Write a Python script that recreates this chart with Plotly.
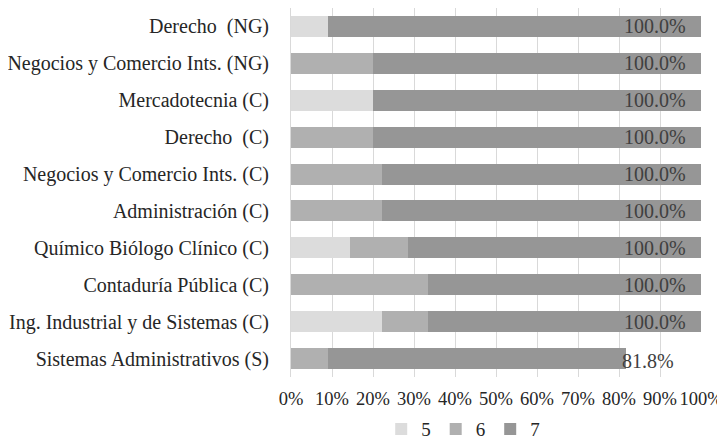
import plotly.graph_objects as go

categorias = ['Derecho  (NG)', 'Negocios y Comercio Ints. (NG)', 'Mercadotecnia (C)',
              'Derecho  (C)', 'Negocios y Comercio Ints. (C)', 'Administración (C)',
              'Químico Biólogo Clínico (C)', 'Contaduría Pública (C)',
              'Ing. Industrial y de Sistemas (C)', 'Sistemas Administrativos (S)']

# porcentaje por calificacion
cal_5 = [9.1, 0, 20.0, 0, 0, 0, 14.3, 0, 22.2, 0]
cal_6 = [0, 20.0, 0, 20.0, 22.2, 22.2, 14.3, 33.3, 11.1, 9.1]
cal_7 = [90.9, 80.0, 80.0, 80.0, 77.8, 77.8, 71.4, 66.7, 66.7, 72.7]
totales = [100.0, 100.0, 100.0, 100.0, 100.0, 100.0, 100.0, 100.0, 100.0, 81.8]

fuente = 'Liberation Serif, Times New Roman, serif'

fig = go.Figure()
for nombre, vals, color in [('5', cal_5, '#DCDCDC'), ('6', cal_6, '#B0B0B0'), ('7', cal_7, '#969696')]:
    fig.add_trace(go.Bar(y=categorias, x=vals, name=nombre, orientation='h',
                         marker=dict(color=color, line=dict(width=0))))

for cat, tot in zip(categorias, totales):
    if tot > 90:
        fig.add_annotation(x=tot, y=cat, text=f'{tot:.1f}%', showarrow=False,
                           xanchor='right', xshift=-13, yshift=0,
                           font=dict(family=fuente, size=20, color='#404040'))
    else:
        fig.add_annotation(x=tot, y=cat, text=f'{tot:.1f}%', showarrow=False,
                           xanchor='left', xshift=-6, yshift=-2,
                           font=dict(family=fuente, size=20, color='#404040'))

# la pagina deja 8px de margen en el body
fig.update_layout(
    width=717, height=432,
    barmode='stack', bargap=0.43,
    margin=dict(l=283, r=24, t=0, b=63, autoexpand=False),
    paper_bgcolor='white', plot_bgcolor='white',
    font=dict(family=fuente, size=20, color='#262626'),
    showlegend=True,
    legend=dict(orientation='h', x=0.42, xanchor='center', y=-0.141, yanchor='middle',
                font=dict(size=19), itemwidth=30, traceorder='normal'),
    xaxis=dict(range=[0, 100], dtick=10, ticksuffix='%', showgrid=True,
               gridcolor='#D9D9D9', gridwidth=1, zeroline=False, showline=False,
               tickangle=0, automargin=False, ticklabelstandoff=8,
               tickfont=dict(size=18.5)),
    yaxis=dict(autorange='reversed', showline=True, linecolor='#D9D9D9', linewidth=1,
               ticks='', ticklabelstandoff=17, showgrid=False, automargin=False),
)

fig.write_html("out.html")
